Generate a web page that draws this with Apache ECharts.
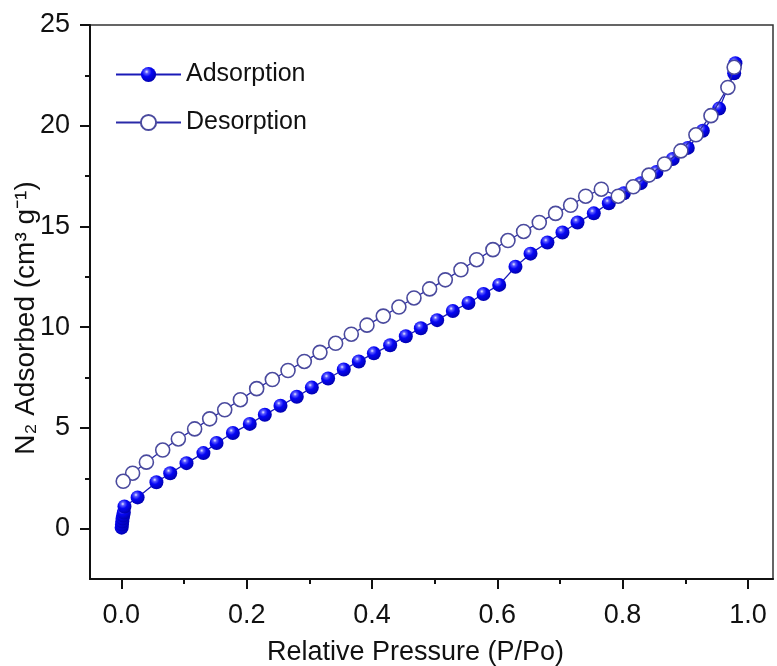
<!DOCTYPE html>
<html>
<head>
<meta charset="utf-8">
<script src="https://cdn.jsdelivr.net/npm/echarts@6/dist/echarts.min.js"></script>
<style>
html,body{margin:0;padding:0;background:#fff;}
#chart{width:777px;height:666px;}
</style>
</head>
<body>
<div id="chart"></div>
<script>
// Adsorption branch: relative pressure and adsorbed volume
const adsP = [0.0005,0.001,0.0015,0.002,0.003,0.004,0.005,0.026,0.056,0.078,0.104,0.131,0.152,0.178,0.205,0.229,0.254,0.28,0.304,0.33,0.355,0.379,0.403,0.429,0.454,0.478,0.504,0.529,0.554,0.578,0.603,0.629,0.653,0.68,0.704,0.728,0.754,0.778,0.802,0.829,0.854,0.88,0.904,0.928,0.954,0.978,0.98];
const adsV = [0.05,0.2,0.35,0.5,0.65,0.8,1.1,1.55,2.3,2.75,3.25,3.75,4.25,4.75,5.2,5.65,6.1,6.55,7.0,7.45,7.9,8.3,8.7,9.1,9.55,9.95,10.35,10.8,11.2,11.65,12.1,13.0,13.65,14.2,14.7,15.2,15.65,16.15,16.65,17.15,17.7,18.35,18.9,19.75,20.85,22.6,23.1];
// Desorption branch (listed from high to low pressure)
const desP = [0.978,0.968,0.941,0.917,0.893,0.867,0.842,0.817,0.793,0.766,0.741,0.717,0.693,0.667,0.642,0.617,0.593,0.567,0.542,0.517,0.492,0.467,0.443,0.418,0.392,0.367,0.342,0.317,0.292,0.266,0.241,0.216,0.19,0.165,0.141,0.117,0.091,0.066,0.04,0.018,0.003];
const desV = [22.9,21.9,20.5,19.55,18.75,18.1,17.55,16.97,16.5,16.85,16.5,16.05,15.65,15.2,14.75,14.3,13.85,13.35,12.85,12.35,11.9,11.45,11.0,10.55,10.1,9.65,9.2,8.75,8.3,7.85,7.4,6.95,6.4,5.9,5.45,4.95,4.45,3.9,3.3,2.75,2.35];
// Tick values
const xMajor = [0, 0.2, 0.4, 0.6, 0.8, 1.0];
const xMinor = [0.1, 0.3, 0.5, 0.7, 0.9];
const yMajor = [0, 5, 10, 15, 20, 25];
const yMinor = [2.5, 7.5, 12.5, 17.5, 22.5];

const FONT = '"Liberation Sans", Arial, sans-serif';
const chart = echarts.init(document.getElementById('chart'), null, {renderer: 'canvas'});

const ballFill = {
  type: 'radial', x: 0.38, y: 0.32, r: 0.72,
  colorStops: [
    {offset: 0, color: '#ececff'},
    {offset: 0.18, color: '#5a5aff'},
    {offset: 0.45, color: '#0606f5'},
    {offset: 1, color: '#0000aa'}
  ]
};

const option = {
  animation: false,
  backgroundColor: '#fff',
  grid: {left: 90, right: 4, top: 25, bottom: 87, show: true, borderColor: '#333', borderWidth: 1.5,
         containLabel: false, outerBoundsMode: 'none'},
  legend: {
    orient: 'vertical', left: 115, top: 62, padding: 0, itemWidth: 65, itemHeight: 19, itemGap: 23,
    textStyle: {fontFamily: FONT, fontSize: 25, color: '#111'},
    data: ['Adsorption', 'Desorption']
  },
  xAxis: [{
    type: 'value', position: 'bottom', min: -0.05, max: 1.04,
    axisLine: {show: true, onZero: false, lineStyle: {color: '#111', width: 2}},
    axisTick: {show: true, inside: false, length: 10, lineStyle: {color: '#111', width: 2}, customValues: xMajor},
    axisLabel: {customValues: xMajor, margin: 23, fontFamily: FONT, fontSize: 27, color: '#111', formatter: v => v.toFixed(1)},
    splitLine: {show: false},
    name: 'Relative Pressure (P/Po)', nameLocation: 'middle', nameGap: 60, nameMoveOverlap: false,
    nameTextStyle: {fontFamily: FONT, fontSize: 27, color: '#111', padding: [0, 32, 0, 0]}
  }, {
    type: 'value', position: 'bottom', min: -0.05, max: 1.04,
    axisLine: {show: false, onZero: false},
    axisTick: {show: true, inside: false, length: 5, lineStyle: {color: '#111', width: 2}, customValues: xMinor},
    axisLabel: {show: false},
    splitLine: {show: false}
  }],
  yAxis: [{
    type: 'value', position: 'left', min: -2.5, max: 25,
    axisLine: {show: true, onZero: false, lineStyle: {color: '#111', width: 2}},
    axisTick: {show: true, inside: false, length: 10, lineStyle: {color: '#111', width: 2}, customValues: yMajor},
    axisLabel: {customValues: yMajor, margin: 20, fontFamily: FONT, fontSize: 27, color: '#111'},
    splitLine: {show: false},
    name: 'N\u2082 Adsorbed (cm\u00B3 g\u207B\u00B9)', nameLocation: 'middle', nameGap: 50, nameRotate: 90, nameMoveOverlap: false,
    nameTextStyle: {fontFamily: FONT, fontSize: 28, color: '#111', padding: [0, 32, 0, 0]}
  }, {
    type: 'value', position: 'left', min: -2.5, max: 25,
    axisLine: {show: false, onZero: false},
    axisTick: {show: true, inside: false, length: 5, lineStyle: {color: '#111', width: 2}, customValues: yMinor},
    axisLabel: {show: false},
    splitLine: {show: false}
  }],
  series: [{
    name: 'Adsorption', type: 'line', xAxisIndex: 0, yAxisIndex: 0,
    data: adsP.map((p, i) => [p, adsV[i]]),
    symbol: 'circle', symbolSize: 14, showAllSymbol: true,
    lineStyle: {color: '#1a1ab8', width: 1.3},
    itemStyle: {color: ballFill, borderWidth: 0},
    z: 2
  }, {
    name: 'Desorption', type: 'line', xAxisIndex: 0, yAxisIndex: 0,
    data: desP.map((p, i) => [p, desV[i]]),
    symbol: 'circle', symbolSize: 14, showAllSymbol: true,
    lineStyle: {color: '#2a2aa8', width: 1.3},
    itemStyle: {color: '#ffffff', borderColor: '#4a4a9e', borderWidth: 1.6},
    z: 3
  }]
};
chart.setOption(option);
</script>
</body>
</html>
